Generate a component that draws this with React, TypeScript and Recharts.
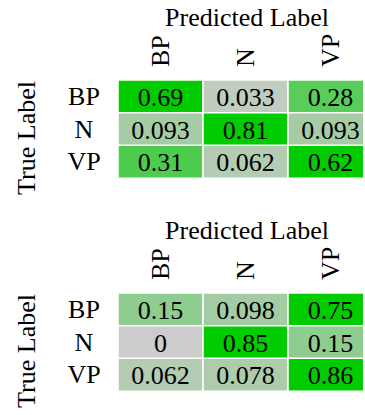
import { BarChart, Bar, XAxis, YAxis, Cell, LabelList } from "recharts";

const classes = ["BP", "N", "VP"];

// first matrix, one array per true label
const topBP = [0.69, 0.033, 0.28];
const topN = [0.093, 0.81, 0.093];
const topVP = [0.31, 0.062, 0.62];

// second matrix
const botBP = [0.15, 0.098, 0.75];
const botN = [0, 0.85, 0.15];
const botVP = [0.062, 0.078, 0.86];

const FONT = '"Liberation Serif", "Times New Roman", serif';
const FS = 26;
const txt = { fontFamily: FONT, fontSize: FS };

// grey -> green, saturating at 0.5
const cellColor = (v: number) => {
  const t = Math.min(v / 0.5, 1);
  const c = Math.round(204 * (1 - t));
  return `rgb(${c},204,${c})`;
};

const RowTick = ({ x, y, payload }: any) => (
  <text x={x - 26} y={y} textAnchor="middle" dominantBaseline="central" style={txt} fill="#000">
    {payload.value}
  </text>
);

const ColTick = ({ x, y, payload }: any) => (
  <text
    x={x}
    y={y - 5}
    transform={`rotate(-90, ${x}, ${y - 5})`}
    textAnchor="start"
    dominantBaseline="central"
    style={txt}
    fill="#000"
  >
    {classes[Math.floor(payload.value)]}
  </text>
);

const ValueLabel = ({ x, y, width, height, value }: any) => (
  <text
    x={x + width / 2}
    y={y + height / 2 + 1}
    textAnchor="middle"
    dominantBaseline="central"
    style={txt}
    fill="#000"
  >
    {String(value)}
  </text>
);

function Matrix({ rows, top }: { rows: number[][]; top: number }) {
  const data = rows.map((r, i) => ({
    row: classes[i],
    c0: 1, c1: 1, c2: 1,
    v0: r[0], v1: r[1], v2: r[2],
  }));
  return (
    <div style={{ position: "absolute", left: 0, top, width: 363, height: 202, overflow: "hidden", fontFamily: FONT }}>
      <BarChart
        width={380}
        height={200}
        data={data}
        layout="vertical"
        barCategoryGap={0}
        margin={{ top: 0, right: 7, left: 0, bottom: 22 }}
      >
        <XAxis
          type="number"
          orientation="top"
          domain={[0, 3]}
          ticks={[0.5, 1.5, 2.5]}
          height={80}
          axisLine={false}
          tickLine={false}
          tick={<ColTick />}
          interval={0}
        />
        <YAxis
          type="category"
          dataKey="row"
          width={118}
          axisLine={false}
          tickLine={false}
          tick={<RowTick />}
        />
        {[0, 1, 2].map((j) => (
          <Bar key={j} dataKey={`c${j}`} stackId="m" isAnimationActive={false} stroke="#fff" strokeWidth={1.5}>
            {rows.map((r, i) => (
              <Cell key={i} fill={cellColor(r[j])} />
            ))}
            <LabelList dataKey={`v${j}`} content={<ValueLabel />} />
          </Bar>
        ))}
        <text x={247} y={26} textAnchor="middle" style={txt} fill="#000">
          Predicted Label
        </text>
        <text
          x={26}
          y={138}
          transform="rotate(-90, 26, 138)"
          textAnchor="middle"
          dominantBaseline="central"
          style={txt}
          fill="#000"
        >
          True Label
        </text>
      </BarChart>
    </div>
  );
}

export default function App() {
  return (
    <div style={{ position: "fixed", left: 0, top: 0, width: 365, height: 415, background: "#fff" }}>
      <Matrix rows={[topBP, topN, topVP]} top={0} />
      <Matrix rows={[botBP, botN, botVP]} top={213} />
    </div>
  );
}
